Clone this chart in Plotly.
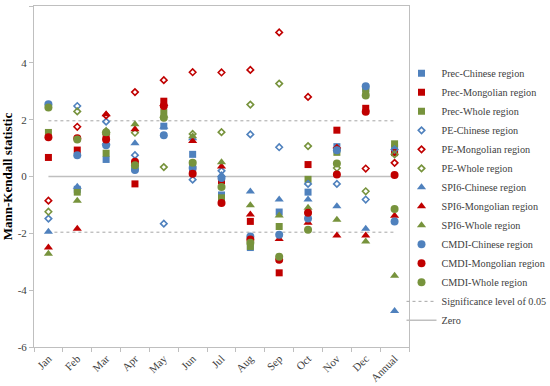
import plotly.graph_objects as go

months = ["Jan", "Feb", "Mar", "Apr", "May", "Jun", "Jul", "Aug", "Sep", "Oct", "Nov", "Dec", "Annual"]

prec_chinese   = [2.50, -0.45, 0.60, 0.30, 1.77, 0.78, -0.65, -2.50, -1.25, -0.55, 1.05, 3.10, 1.00]
prec_mongolian = [0.67, 0.93, 1.40, -0.26, 2.65, 0.25, -0.15, -1.58, -3.39, 0.42, 1.63, 2.40, 0.84]
prec_whole     = [1.55, -0.55, 0.82, 0.35, 2.25, 0.45, -0.75, -2.46, -1.76, -0.10, 0.85, 3.00, 1.15]
pe_chinese     = [-1.48, 2.48, 1.93, 0.75, -1.66, -0.11, 0.20, 1.48, 1.03, -0.26, -0.26, -0.81, 0.95]
pe_mongolian   = [-0.85, 1.75, 2.15, 2.97, 3.39, 3.67, 3.66, 3.75, 5.07, 2.80, 1.00, 0.28, 0.48]
pe_whole       = [-1.24, 2.29, 1.50, 1.54, 0.33, 1.50, 1.56, 2.53, 3.27, 1.07, 0.30, -0.52, 0.78]
spi6_chinese   = [-1.94, -0.36, 1.20, 1.17, 1.75, 1.35, 0.05, -0.53, -0.81, -0.81, -1.05, -1.84, -4.73]
spi6_mongolian = [-2.50, -1.84, 2.19, 1.66, 2.55, 1.25, 0.35, -1.34, -2.20, -1.63, -2.08, -2.08, -1.38]
spi6_whole     = [-2.72, -0.85, 1.62, 1.84, 2.15, 1.42, 0.50, -1.01, -1.37, -1.10, -1.52, -2.29, -3.49]
cmdi_chinese   = [2.54, 0.75, 1.10, 0.23, 1.45, 0.30, -0.05, -2.11, -2.05, -1.48, 0.92, 3.18, -1.58]
cmdi_mongolian = [1.38, 1.35, 1.30, 0.52, 2.48, 0.10, -0.93, -2.22, -2.93, -1.28, 0.07, 2.28, 0.05]
cmdi_whole     = [2.43, 1.30, 1.56, 0.40, 2.07, 0.48, -0.37, -2.33, -2.82, -1.87, 0.46, 2.85, -1.14]

sig_level = 1.96
y_ticks = [-6, -4, -2, 0, 2, 4, 6]
y_tick_labels = ["-6", "-4", "-2", "0", "2", "4", "6"]

BLUE = "#4F81BD"
RED = "#C00000"
GREEN = "#77933C"
FONT = "Liberation Serif"

series = [
    ("Prec-Chinese region", prec_chinese, "square", BLUE),
    ("Prec-Mongolian region", prec_mongolian, "square", RED),
    ("Prec-Whole region", prec_whole, "square", GREEN),
    ("PE-Chinese region", pe_chinese, "diamond-open", BLUE),
    ("PE-Mongolian region", pe_mongolian, "diamond-open", RED),
    ("PE-Whole region", pe_whole, "diamond-open", GREEN),
    ("SPI6-Chinese region", spi6_chinese, "triangle-up", BLUE),
    ("SPI6-Mongolian region", spi6_mongolian, "triangle-up", RED),
    ("SPI6-Whole region", spi6_whole, "triangle-up", GREEN),
    ("CMDI-Chinese region", cmdi_chinese, "circle", BLUE),
    ("CMDI-Mongolian region", cmdi_mongolian, "circle", RED),
    ("CMDI-Whole region", cmdi_whole, "circle", GREEN),
]

fig = go.Figure()

# reference lines (drawn underneath, listed last in legend)
fig.add_trace(go.Scatter(
    x=months + [None] + months,
    y=[sig_level] * len(months) + [None] + [-sig_level] * len(months),
    mode="lines", name="Significance level of 0.05",
    line=dict(color="#A6A6A6", width=1, dash="dot"),
    legendrank=2000, connectgaps=False,
))
fig.add_trace(go.Scatter(
    x=months, y=[0] * len(months), mode="lines", name="Zero",
    line=dict(color="#BFBFBF", width=1.5),
    legendrank=2001,
))

sizes = {"square": 7, "diamond-open": 5, "triangle-up": 8, "circle": 8}
for name, vals, sym, col in series:
    marker = dict(symbol=sym, color=col, size=sizes[sym])
    if sym == "diamond-open":
        marker["line"] = dict(color=col, width=1.6)
    else:
        marker["line"] = dict(width=0)
    fig.add_trace(go.Scatter(x=months, y=vals, mode="markers", name=name, marker=marker))

fig.update_layout(
    width=550, height=386,
    margin=dict(l=34, r=141, t=6, b=39, autoexpand=False),
    paper_bgcolor="white", plot_bgcolor="white",
    font=dict(family=FONT, size=11, color="#404040"),
    showlegend=True,
    legend=dict(
        x=0.98, y=0.845, xanchor="left", yanchor="top",
        font=dict(family=FONT, size=10.2, color="#404040"),
        bgcolor="rgba(0,0,0,0)", tracegroupgap=0, itemwidth=30,
    ),
)
fig.update_xaxes(
    type="category", categoryorder="array", categoryarray=months,
    range=[-0.5, len(months) - 0.5], automargin=False,
    showline=True, linecolor="#BFBFBF", linewidth=1, mirror=True,
    ticks="outside", tickson="boundaries", ticklen=4, tickcolor="#BFBFBF",
    tickangle=-45, showgrid=False, zeroline=False,
    tickfont=dict(family=FONT, size=11, color="#404040"),
)
fig.update_yaxes(
    range=[-6, 6], tickvals=y_ticks, ticktext=y_tick_labels, automargin=False,
    showline=True, linecolor="#BFBFBF", linewidth=1, mirror=True,
    ticks="outside", ticklen=4, tickcolor="#BFBFBF",
    showgrid=False, zeroline=False,
    tickfont=dict(family=FONT, size=11, color="#404040"),
    title=dict(text="<b>Mann-Kendall statistic</b>", font=dict(family=FONT, size=13, color="#000000"), standoff=2),
)

fig.write_html("out.html", config={"displayModeBar": False},
               post_script="document.body.style.margin='0';")
